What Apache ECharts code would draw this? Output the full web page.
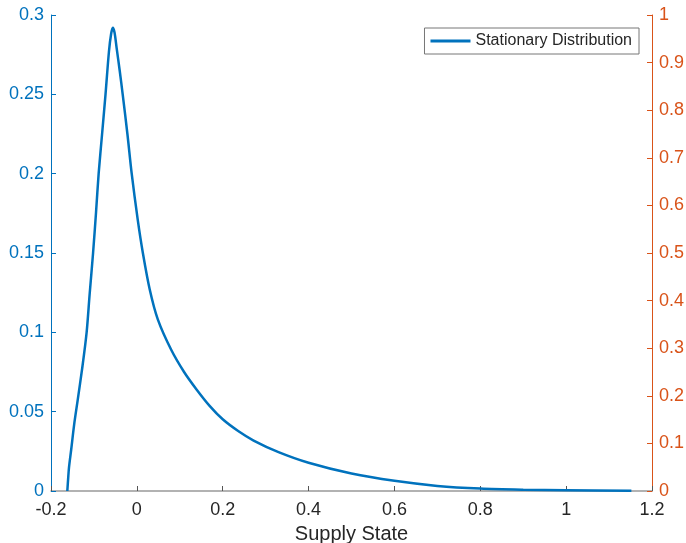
<!DOCTYPE html>
<html>
<head>
<meta charset="utf-8">
<script src="https://cdn.jsdelivr.net/npm/echarts@6/dist/echarts.min.js"></script>
<style>
  html, body { margin: 0; padding: 0; background: #fff; }
  #chart { width: 686px; height: 543px; }
</style>
</head>
<body>
<div id="chart"></div>
<script>
// supply state (x) and density (y)
const supplyState = [
  -0.162, -0.160, -0.158, -0.153, -0.146, -0.138, -0.127, -0.117, -0.110, -0.102,
  -0.095, -0.089, -0.081, -0.073, -0.065, -0.060, -0.056, -0.052, -0.047, -0.040,
  -0.033, -0.022, -0.012, 0.002, 0.014, 0.030, 0.049, 0.080, 0.110, 0.139,
  0.170, 0.2, 0.236, 0.272, 0.33, 0.4, 0.5, 0.6, 0.7, 0.8, 0.9, 1.0, 1.152
]
const density = [
  0.0, 0.008, 0.015, 0.026, 0.042, 0.057, 0.078, 0.10, 0.124, 0.15,
  0.176, 0.2, 0.225, 0.25, 0.277, 0.288, 0.292, 0.289, 0.279, 0.265,
  0.25, 0.225, 0.2, 0.171, 0.15, 0.127, 0.108, 0.089, 0.075, 0.064,
  0.0535, 0.0452, 0.0378, 0.0318, 0.0245, 0.0178, 0.011, 0.0064, 0.0032, 0.0015, 0.0008, 0.0005, 0.0002
]
const leftTicks = { min: 0, max: 0.3, step: 0.05 }
const rightTicks = { min: 0, max: 1, step: 0.1 }
const xTicks = { min: -0.2, max: 1.2, step: 0.2 }

const blue = '#0072BD'
const orange = '#D95319'
const font = 'Liberation Sans, Helvetica, Arial, sans-serif'

const chart = echarts.init(document.getElementById('chart'), null, { renderer: 'canvas' })

chart.setOption({
  animation: false,
  textStyle: { fontFamily: font },
  grid: { left: 51, right: 34, top: 15, bottom: 52, outerBoundsMode: 'none', containLabel: false },
  legend: {
    right: 47,
    top: 28,
    itemWidth: 40,
    itemHeight: 3,
    itemGap: 6,
    padding: [5, 7, 5, 6],
    borderColor: '#777',
    borderWidth: 1,
    borderRadius: 0,
    backgroundColor: '#fff',
    icon: 'rect',
    textStyle: { fontSize: 16, color: '#262626', fontFamily: font },
    data: ['Stationary Distribution']
  },
  xAxis: {
    type: 'value',
    min: xTicks.min,
    max: xTicks.max,
    interval: xTicks.step,
    name: 'Supply State',
    nameLocation: 'middle',
    nameGap: 33,
    nameTextStyle: { fontSize: 20, color: '#262626', fontFamily: font },
    axisLine: { onZero: false, lineStyle: { color: '#999', width: 1.5 } },
    axisTick: { inside: true, length: 5, lineStyle: { color: '#555' } },
    axisLabel: { fontSize: 18, color: '#262626', margin: 10, fontFamily: font },
    splitLine: { show: false }
  },
  yAxis: [{
    type: 'value',
    min: leftTicks.min,
    max: leftTicks.max,
    interval: leftTicks.step,
    position: 'left',
    axisLine: { show: true, onZero: false, lineStyle: { color: blue, width: 1 } },
    axisTick: { show: true, inside: true, length: 5, lineStyle: { color: blue } },
    axisLabel: { fontSize: 18, color: blue, margin: 7, fontFamily: font },
    splitLine: { show: false }
  }, {
    type: 'value',
    min: rightTicks.min,
    max: rightTicks.max,
    interval: rightTicks.step,
    position: 'right',
    axisLine: { show: true, onZero: false, lineStyle: { color: orange, width: 1 } },
    axisTick: { show: true, inside: true, length: 5, lineStyle: { color: orange } },
    axisLabel: { fontSize: 18, color: orange, margin: 7, fontFamily: font },
    splitLine: { show: false }
  }],
  series: [{
    name: 'Stationary Distribution',
    type: 'line',
    yAxisIndex: 0,
    showSymbol: false,
    smooth: 0.3,
    lineStyle: { color: blue, width: 2.5 },
    itemStyle: { color: blue },
    data: supplyState.map((x, i) => [x, density[i]])
  }]
})
</script>
</body>
</html>
